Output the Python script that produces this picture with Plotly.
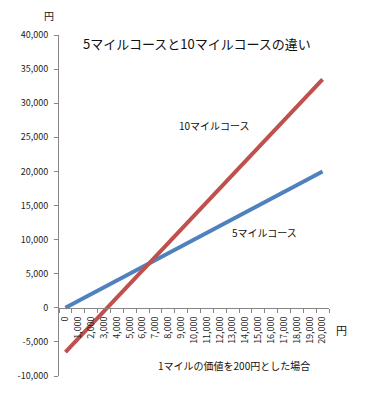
import plotly.graph_objects as go

categories = ["0", "1,000", "2,000", "3,000", "4,000", "5,000", "6,000", "7,000", "8,000", "9,000",
              "10,000", "11,000", "12,000", "13,000", "14,000", "15,000", "16,000", "17,000",
              "18,000", "19,000", "20,000"]
course5 = [0, 1000, 2000, 3000, 4000, 5000, 6000, 7000, 8000, 9000, 10000,
           11000, 12000, 13000, 14000, 15000, 16000, 17000, 18000, 19000, 20000]
course10 = [-6500, -4500, -2500, -500, 1500, 3500, 5500, 7500, 9500, 11500, 13500,
            15500, 17500, 19500, 21500, 23500, 25500, 27500, 29500, 31500, 33500]
y_tickvals = [-10000, -5000, 0, 5000, 10000, 15000, 20000, 25000, 30000, 35000, 40000]
y_ticktext = ["-10,000", "-5,000", "0", "5,000", "10,000", "15,000", "20,000",
              "25,000", "30,000", "35,000", "40,000"]

FONT = "Noto Sans CJK JP"
OFF = 8  # page body margin
L, R, T, B = 59, 329, 35, 376  # plot area in page pixels
W, H = 367, 386

def px(x):
    return (x - L) / (R - L)

def py(y):
    return (B - y) / (B - T)

fig = go.Figure()
fig.add_trace(go.Scatter(x=categories, y=course5, mode="lines", name="5マイルコース",
                         line=dict(color="#4F81BD", width=4)))
fig.add_trace(go.Scatter(x=categories, y=course10, mode="lines", name="10マイルコース",
                         line=dict(color="#C0504D", width=4)))

axis_color = "#868686"
fig.update_layout(
    width=W, height=H,
    margin=dict(l=L - OFF, r=W - (R - OFF), t=T - OFF, b=H - (B - OFF), pad=0),
    paper_bgcolor="white", plot_bgcolor="white",
    showlegend=False,
    font=dict(family=FONT, size=9, color="#222222"),
    xaxis=dict(type="category", range=[-0.5, 20.5], anchor="free", position=0.2,
               automargin=False,
               showline=True, linecolor=axis_color, linewidth=1,
               ticks="outside", ticklen=4, tickcolor=axis_color, tickson="boundaries",
               tickangle=-90, showgrid=False, zeroline=False, ticklabelstandoff=4,
               tickfont=dict(family=FONT, size=9, color="#222222")),
    yaxis=dict(range=[-10000, 40000], tickvals=y_tickvals, ticktext=y_ticktext,
               automargin=False,
               showline=True, linecolor=axis_color, linewidth=1,
               ticks="outside", ticklen=4, tickcolor=axis_color,
               showgrid=False, zeroline=False, ticklabelstandoff=4,
               tickfont=dict(family=FONT, size=9, color="#222222")),
)

ann = [
    dict(text="5マイルコースと10マイルコースの違い", x=px(196.5), y=py(44), size=13),
    dict(text="10マイルコース", x=px(214), y=py(125), size=10),
    dict(text="5マイルコース", x=px(264), y=py(233), size=10),
    dict(text="1マイルの価値を200円とした場合", x=px(234), y=py(365), size=10),
    dict(text="円", x=px(49), y=py(15), size=10),
    dict(text="円", x=px(341), y=py(330), size=11),
]
for a in ann:
    fig.add_annotation(text=a["text"], x=a["x"], y=a["y"], xref="paper", yref="paper",
                       showarrow=False, xanchor="center", yanchor="middle",
                       font=dict(family=FONT, size=a["size"], color="#111111"))

fig.write_html("out.html")
